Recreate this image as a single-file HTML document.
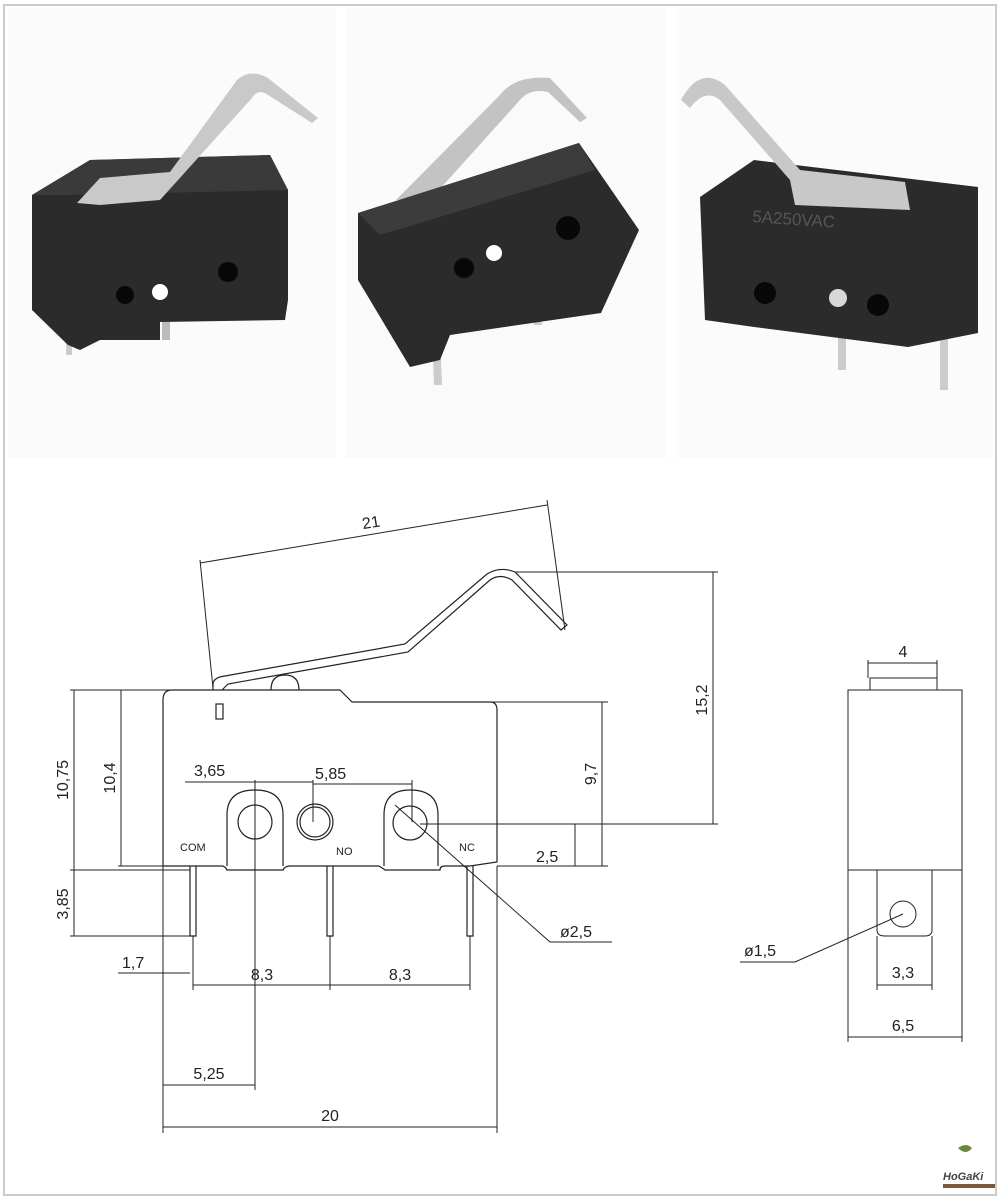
<!DOCTYPE html>
<html><head><meta charset="utf-8"><style>
html,body{margin:0;padding:0;background:#fff;}
svg{display:block}
text{font-family:"Liberation Sans",sans-serif;fill:#222;}
</style></head><body>
<svg width="1000" height="1200" viewBox="0 0 1000 1200" xmlns="http://www.w3.org/2000/svg">
<rect x="0" y="0" width="1000" height="1200" fill="#fff"/>
<rect x="4" y="5" width="992" height="1190" fill="none" stroke="#ccc" stroke-width="2"/>
<!-- photos -->
<rect x="8" y="8" width="328" height="450" fill="#fbfbfb"/>
<rect x="346" y="8" width="320" height="450" fill="#fafafa"/>
<rect x="676" y="8" width="318" height="450" fill="#fbfbfb"/>
<!-- photo 1 -->
<polygon points="66,355 72,355 72,325 66,325" fill="#ccc"/>
<polygon points="162,340 170,340 170,318 162,318" fill="#bbb"/>
<path d="M32 195 L90 160 L270 155 L288 190 L288 300 L285 320 L160 322 L160 340 L100 340 L80 350 L68 345 L32 310 Z" fill="#2b2b2b"/>
<path d="M32 195 L90 160 L270 155 L288 190 L70 195 Z" fill="#3a3a3a"/>
<path d="M77 203 L100 178 L170 172 L237 80 Q250 68 268 78 L318 118 L312 123 L268 95 Q258 88 252 98 L160 200 L100 205 Z" fill="#c9c9c9"/>
<circle cx="125" cy="295" r="9" fill="#080808"/>
<circle cx="160" cy="292" r="8" fill="#fff"/>
<circle cx="228" cy="272" r="10" fill="#080808"/>
<!-- photo 2 -->
<polygon points="432,335 440,335 442,385 434,385" fill="#ccc"/>
<polygon points="528,265 536,265 542,325 534,325" fill="#ccc"/>
<path d="M396 200 L500 95 Q515 75 550 78 L587 118 L580 122 L548 92 Q530 88 520 100 L430 200 Z" fill="#c3c3c3"/>
<path d="M358 213 L579 143 L639 230 L601 313 L450 335 L440 360 L410 367 L358 280 Z" fill="#2b2b2b"/>
<path d="M358 213 L579 143 L595 170 L380 235 Z" fill="#3c3c3c"/>
<circle cx="464" cy="268" r="10" fill="#080808"/>
<circle cx="494" cy="253" r="8" fill="#fff"/>
<circle cx="568" cy="228" r="12" fill="#080808"/>
<!-- photo 3 -->
<polygon points="838,320 846,320 846,370 838,370" fill="#ccc"/>
<polygon points="940,315 948,315 948,390 940,390" fill="#ccc"/>
<path d="M700 197 L754 160 L978 187 L978 333 L908 347 L754 327 L705 320 Z" fill="#2b2b2b"/>
<path d="M681 100 Q700 65 725 85 L800 170 L905 182 L910 210 L795 205 L790 180 L720 100 Q705 88 690 108 Z" fill="#c8c8c8"/>
<circle cx="765" cy="293" r="11" fill="#080808"/>
<circle cx="838" cy="298" r="9" fill="#d8d8d8"/>
<circle cx="878" cy="305" r="11" fill="#080808"/>
<text x="752" y="222" font-size="17" fill="#555" style="fill:#555" transform="rotate(4 752 222)">5A250VAC</text>

<!-- drawing -->
<g fill="none" stroke="#222" stroke-width="1.2">
<path d="M213 690 L213 683 Q215 677 225 676 L405 644 L487 574 Q500 566 515 572 L567 625 L561 630 L512 580 Q500 573 490 580 L408 652 L228 684 L222 690"/>
<path d="M271 690 Q271 675 285 675 Q299 675 299 690"/>
<path d="M172 690 L340 690 L352 702 L490 702 Q497 702 497 710 L497 862 L470 866 L445 866 Q440 866 440 870 L385 870 Q380 866 378 866 L290 866 Q285 866 283 870 L227 870 Q225 866 222 866 L163 866 L163 700 Q163 690 172 690"/>
<rect x="216" y="704" width="7" height="15"/>
<path d="M227 866 L227 815 Q227 790 255 790 Q283 790 283 815 L283 866"/>
<circle cx="255" cy="822" r="17"/>
<circle cx="315" cy="822" r="18"/><circle cx="315" cy="822" r="15"/>
<path d="M384 866 L384 815 Q384 790 410 790 Q438 790 438 815 L438 866"/>
<circle cx="410" cy="823" r="17"/>
<path d="M190 866 L190 936 L196 936 L196 866 M327 866 L327 936 L333 936 L333 866 M467 866 L467 936 L473 936 L473 866"/>
</g>
<text x="180" y="851" font-size="11">COM</text>
<text x="336" y="855" font-size="11">NO</text>
<text x="459" y="851" font-size="11">NC</text>

<g fill="none" stroke="#222" stroke-width="1">
<line x1="200" y1="563" x2="547" y2="505"/>
<line x1="200" y1="560" x2="213" y2="688"/>
<line x1="547" y1="500" x2="565" y2="630"/>
<line x1="515" y1="572" x2="718" y2="572"/>
<line x1="420" y1="824" x2="718" y2="824"/>
<line x1="713" y1="572" x2="713" y2="824"/>
<line x1="352" y1="702" x2="608" y2="702"/>
<line x1="497" y1="866" x2="608" y2="866"/>
<line x1="602" y1="702" x2="602" y2="866"/>
<line x1="575" y1="824" x2="575" y2="866"/>
<line x1="535" y1="866" x2="578" y2="866"/>
<line x1="70" y1="690" x2="215" y2="690"/>
<line x1="118" y1="866" x2="163" y2="866"/>
<line x1="70" y1="870" x2="190" y2="870"/>
<line x1="70" y1="936" x2="190" y2="936"/>
<line x1="74" y1="690" x2="74" y2="870"/>
<line x1="121" y1="690" x2="121" y2="866"/>
<line x1="74" y1="870" x2="74" y2="936"/>
<line x1="163" y1="866" x2="163" y2="1133"/>
<line x1="497" y1="866" x2="497" y2="1133"/>
<line x1="255" y1="780" x2="255" y2="1090"/>
<line x1="193" y1="936" x2="193" y2="990"/>
<line x1="330" y1="936" x2="330" y2="990"/>
<line x1="470" y1="936" x2="470" y2="990"/>
<line x1="118" y1="973" x2="190" y2="973"/>
<line x1="193" y1="985" x2="470" y2="985"/>
<line x1="163" y1="1085" x2="255" y2="1085"/>
<line x1="163" y1="1127" x2="497" y2="1127"/>
<line x1="185" y1="782" x2="313" y2="782"/>
<line x1="313" y1="784" x2="412" y2="784"/>
<line x1="313" y1="780" x2="313" y2="822"/>
<line x1="412" y1="780" x2="412" y2="822"/>
<polyline points="395,805 550,942 612,942"/>
<rect x="848" y="690" width="114" height="180"/>
<rect x="870" y="678" width="67" height="12"/>
<line x1="848" y1="870" x2="848" y2="1042"/>
<line x1="962" y1="870" x2="962" y2="1042"/>
<path d="M877 870 L877 930 Q877 936 885 936 L925 936 Q932 936 932 930 L932 870"/>
<circle cx="903" cy="914" r="13"/>
<line x1="868" y1="660" x2="868" y2="678"/>
<line x1="937" y1="660" x2="937" y2="678"/>
<line x1="868" y1="663" x2="937" y2="663"/>
<line x1="877" y1="936" x2="877" y2="990"/>
<line x1="932" y1="936" x2="932" y2="990"/>
<line x1="877" y1="985" x2="932" y2="985"/>
<line x1="848" y1="1037" x2="962" y2="1037"/>
<polyline points="903,914 795,962 740,962"/>
</g>
<g font-size="16">
<text x="362" y="528" transform="rotate(-9 370 522)">21</text>
<text x="707" y="700" transform="rotate(-90 707 700)" text-anchor="middle">15,2</text>
<text x="596" y="774" transform="rotate(-90 596 774)" text-anchor="middle">9,7</text>
<text x="536" y="862">2,5</text>
<text x="68" y="780" transform="rotate(-90 68 780)" text-anchor="middle">10,75</text>
<text x="115" y="778" transform="rotate(-90 115 778)" text-anchor="middle">10,4</text>
<text x="68" y="904" transform="rotate(-90 68 904)" text-anchor="middle">3,85</text>
<text x="194" y="776">3,65</text>
<text x="315" y="779">5,85</text>
<text x="122" y="968">1,7</text>
<text x="262" y="980" text-anchor="middle">8,3</text>
<text x="400" y="980" text-anchor="middle">8,3</text>
<text x="209" y="1079" text-anchor="middle">5,25</text>
<text x="330" y="1121" text-anchor="middle">20</text>
<text x="560" y="937">ø2,5</text>
<text x="903" y="657" text-anchor="middle">4</text>
<text x="744" y="956">ø1,5</text>
<text x="903" y="978" text-anchor="middle">3,3</text>
<text x="903" y="1031" text-anchor="middle">6,5</text>
</g>
<path d="M958 1148 q8 -6 14 0 q-6 8 -14 0z" fill="#6a8a3a"/>
<text x="943" y="1180" font-size="11" font-style="italic" font-weight="bold" style="fill:#444">HoGaKi</text>
<rect x="943" y="1184" width="52" height="4" fill="#7a5a3a"/>
</svg>
</body></html>
